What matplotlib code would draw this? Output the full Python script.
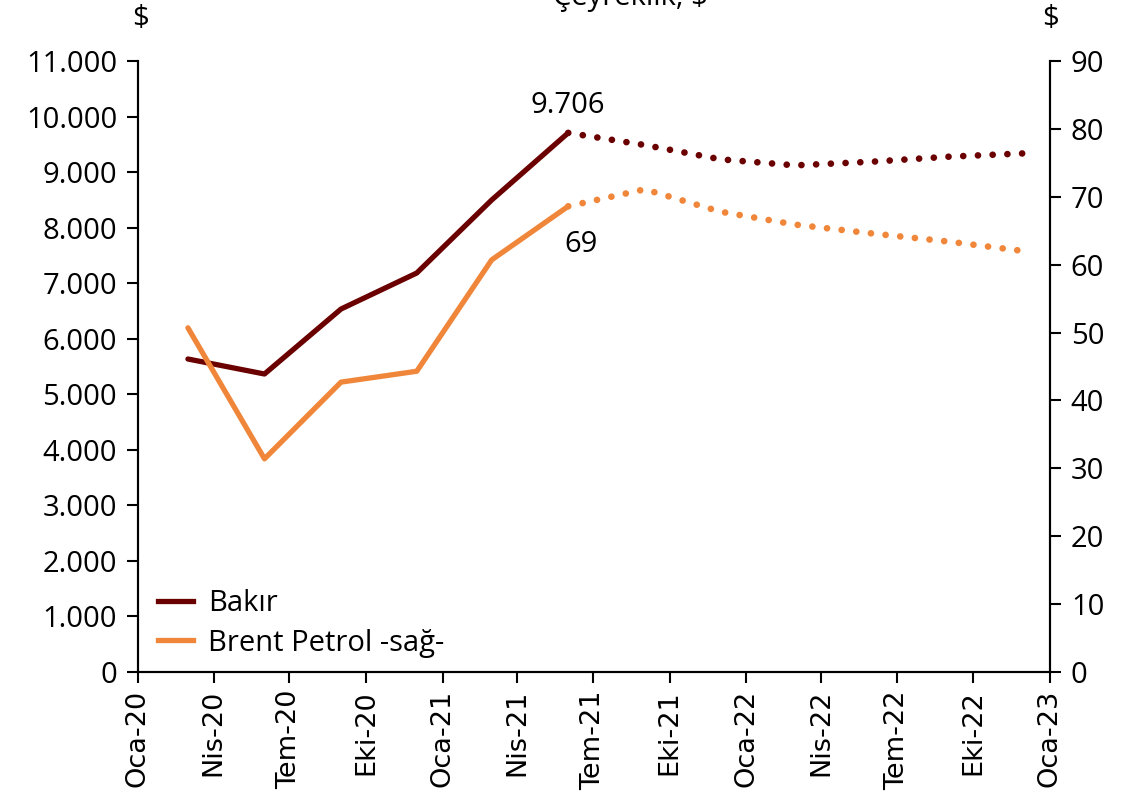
import matplotlib
matplotlib.use("Agg")
import matplotlib.pyplot as plt
import pandas as pd

# quarterly observations and forecasts
actual_dates = pd.to_datetime(["2020-03-01", "2020-06-01", "2020-09-01", "2020-12-01",
                               "2021-03-01", "2021-06-01"])
forecast_dates = pd.to_datetime(["2021-06-01", "2021-09-01", "2021-12-01", "2022-03-01",
                                 "2022-06-01", "2022-09-01", "2022-12-01"])

bakir_actual = [5635, 5365, 6535, 7183, 8497, 9706]
bakir_forecast = [9706, 9487, 9230, 9121, 9187, 9277, 9337]

brent_actual = [50.7, 31.4, 42.7, 44.3, 60.7, 68.6]
brent_forecast = [68.6, 71.1, 67.8, 65.9, 64.6, 63.4, 62.0]

tick_dates = pd.date_range("2020-01-01", "2023-01-01", freq="3MS")
month_tr = {1: "Oca", 4: "Nis", 7: "Tem", 10: "Eki"}
tick_labels = [f"{month_tr[d.month]}-{d.strftime('%y')}" for d in tick_dates]

BAKIR_COLOR = "#6B0000"
BRENT_COLOR = "#F0863A"
FS = 21

plt.rcParams["font.family"] = ["Open Sans", "DejaVu Sans"]

fig = plt.figure(figsize=(11.47, 7.95), dpi=100)
ax = fig.add_axes([138 / 1147, 1 - 672 / 795, (1050 - 138) / 1147, (672 - 61) / 795])
ax2 = ax.twinx()

dotted = (0, (0.01, 2.2))
ax.plot(actual_dates, bakir_actual, color=BAKIR_COLOR, lw=3.8, solid_capstyle="round")
ax.plot(forecast_dates, bakir_forecast, color=BAKIR_COLOR, lw=4.8, linestyle=dotted,
        dash_capstyle="round")
ax2.plot(actual_dates, brent_actual, color=BRENT_COLOR, lw=3.8, solid_capstyle="round")
ax2.plot(forecast_dates, brent_forecast, color=BRENT_COLOR, lw=4.8, linestyle=dotted,
         dash_capstyle="round")

# value labels
ax.text(actual_dates[-1], bakir_actual[-1] + 240, "9.706", ha="center", va="bottom", fontsize=FS)
ax2.text(actual_dates[-1] + pd.Timedelta(days=15), brent_actual[-1] - 3.5, "69", ha="center",
         va="top", fontsize=FS)

ax.set_xlim(pd.Timestamp("2020-01-01"), pd.Timestamp("2023-01-01"))
ax.set_ylim(0, 11000)
ax2.set_ylim(0, 90)
ax.set_yticks(range(0, 11001, 1000))
ax.set_yticklabels([f"{v:,}".replace(",", ".") for v in range(0, 11001, 1000)], fontsize=FS)
ax2.set_yticks(range(0, 91, 10))
ax2.set_yticklabels([str(v) for v in range(0, 91, 10)], fontsize=FS)
ax.set_xticks(tick_dates)
ax.set_xticklabels(tick_labels, rotation=90, fontsize=19.5, family="DejaVu Sans")

for a in (ax, ax2):
    a.spines["top"].set_visible(False)
    for s in ("left", "right", "bottom"):
        a.spines[s].set_linewidth(1.5)
    a.tick_params(direction="out", length=8, width=1.5)
ax.tick_params(axis="y", pad=7)
ax2.tick_params(axis="y", pad=7)
ax.tick_params(axis="x", pad=5)

# legend
h1 = plt.Line2D([], [], color=BAKIR_COLOR, lw=3.8)
h2 = plt.Line2D([], [], color=BRENT_COLOR, lw=3.8)
ax.legend([h1, h2], ["Bakır", "Brent Petrol -sağ-"], loc="lower left", frameon=False,
          fontsize=FS, handlelength=1.2, handletextpad=0.5, borderaxespad=0.3,
          labelspacing=0.35, bbox_to_anchor=(0.0, -0.01))

fig.text(140 / 1147, 1 - 18 / 795, "$", ha="center", va="center", fontsize=FS)
fig.text(1050 / 1147, 1 - 18 / 795, "$", ha="center", va="center", fontsize=FS)
fig.text(630 / 1147, 1 - 5 / 795, "Çeyreklik, $", ha="center", va="baseline", fontsize=FS)

fig.savefig("out.png", dpi=100)
